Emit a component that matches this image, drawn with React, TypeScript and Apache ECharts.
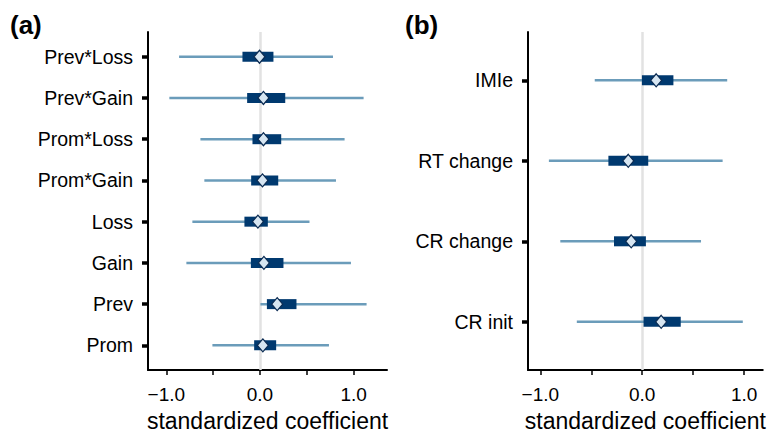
import React, { useEffect, useRef } from "react";
import * as echarts from "echarts";

// Panel (a): rows listed bottom -> top
const labelsA = ["Prom", "Prev", "Gain", "Loss", "Prom*Gain", "Prom*Loss", "Prev*Gain", "Prev*Loss"];
const lowA = [-0.508, 0.005, -0.786, -0.722, -0.594, -0.636, -0.968, -0.864];
const highA = [0.737, 1.139, 0.972, 0.529, 0.812, 0.904, 1.107, 0.78];
const boxLowA = [-0.062, 0.074, -0.097, -0.166, -0.094, -0.08, -0.137, -0.187];
const boxHighA = [0.173, 0.39, 0.251, 0.084, 0.195, 0.227, 0.27, 0.144];
const estA = [0.031, 0.184, 0.042, -0.022, 0.027, 0.037, 0.037, -0.005];

// Panel (b): rows listed bottom -> top
const labelsB = ["CR init", "CR change", "RT change", "IMIe"];
const lowB = [-0.642, -0.804, -0.916, -0.466];
const highB = [0.987, 0.577, 0.789, 0.834];
const boxLowB = [0.013, -0.277, -0.332, -0.003];
const boxHighB = [0.378, 0.036, 0.059, 0.306];
const estB = [0.186, -0.108, -0.137, 0.137];

const xTicks = [-1, -0.5, 0, 0.5, 1];
const xLabels = [-1, 0, 1];

const FONT = "Liberation Sans, Arial, Helvetica, sans-serif";
const LINE_COLOR = "#6b9cba";
const BOX_COLOR = "#00396f";
const PT_FILL = "#d6e5f1";
const PT_STROKE = "#0b2b52";

function buildData(low: number[], high: number[], bl: number[], bh: number[], est: number[]) {
  return low.map((_, i) => [i + 1, low[i], high[i], bl[i], bh[i], est[i]]);
}

function renderItem(params: any, api: any) {
  const y = api.value(0);
  const pLo = api.coord([api.value(1), y]);
  const pHi = api.coord([api.value(2), y]);
  const bLo = api.coord([api.value(3), y]);
  const bHi = api.coord([api.value(4), y]);
  const pE = api.coord([api.value(5), y]);
  const py = pLo[1];
  return {
    type: "group",
    children: [
      {
        type: "line",
        shape: { x1: pLo[0], y1: py, x2: pHi[0], y2: py },
        style: { stroke: LINE_COLOR, lineWidth: 2.5 },
      },
      {
        type: "rect",
        shape: { x: bLo[0], y: py - 5, width: bHi[0] - bLo[0], height: 10 },
        style: { fill: BOX_COLOR },
      },
      {
        type: "polygon",
        shape: {
          points: [
            [pE[0], py - 6.5],
            [pE[0] + 5.5, py],
            [pE[0], py + 6.5],
            [pE[0] - 5.5, py],
          ],
        },
        style: { fill: PT_FILL, stroke: PT_STROKE, lineWidth: 1.2 },
      },
    ],
  };
}

const fmtX = (v: number) => {
  if (Math.abs(v) < 1e-9) return "0.0";
  return (v < 0 ? "\u2212" : "") + Math.abs(v).toFixed(1);
};

function xAxisCfg(gridIndex: number, min: number, max: number) {
  return {
    type: "value",
    gridIndex,
    min,
    max,
    name: "standardized coefficient",
    nameLocation: "middle",
    nameGap: 38,
    nameTextStyle: { fontFamily: FONT, fontSize: 23, color: "#000" },
    axisLine: { show: true, onZero: false, lineStyle: { color: "#000", width: 2 } },
    axisTick: { show: true, length: 5, lineStyle: { color: "#000", width: 1.5 }, customValues: xTicks },
    axisLabel: {
      customValues: xLabels,
      margin: 15,
      fontFamily: FONT,
      fontSize: 19,
      color: "#000",
      formatter: fmtX,
    },
    splitLine: { show: false },
  };
}

function yAxisCfg(gridIndex: number, labels: string[]) {
  const vals = labels.map((_, i) => i + 1);
  return {
    type: "value",
    gridIndex,
    min: 0.4,
    max: labels.length + 0.6,
    axisLine: { show: true, onZero: false, lineStyle: { color: "#000", width: 2 } },
    axisTick: { show: true, length: 6, lineStyle: { color: "#000", width: 3.5 }, customValues: vals },
    axisLabel: {
      customValues: vals,
      margin: 15,
      fontFamily: FONT,
      fontSize: 19.5,
      color: "#000",
      formatter: (v: number) => labels[Math.round(v) - 1] ?? "",
    },
    splitLine: { show: false },
  };
}

function zeroLineSeries(idx: number) {
  return {
    type: "line",
    xAxisIndex: idx,
    yAxisIndex: idx,
    data: [],
    z: 1,
    silent: true,
    markLine: {
      z: 1,
      silent: true,
      symbol: "none",
      label: { show: false },
      lineStyle: { color: "#e2e2e2", width: 2.5, type: "solid" },
      data: [{ xAxis: 0 }],
    },
  };
}

export default function App() {
  const ref = useRef<HTMLDivElement>(null);
  useEffect(() => {
    if (!ref.current) return;
    const chart = echarts.init(ref.current, null, { renderer: "svg" });
    chart.setOption({
      animation: false,
      backgroundColor: "#fff",
      title: [
        { text: "(a)", left: 5, top: 7, textStyle: { fontFamily: FONT, fontSize: 26, fontWeight: "bold", color: "#000" } },
        { text: "(b)", left: 400, top: 7, textStyle: { fontFamily: FONT, fontSize: 26, fontWeight: "bold", color: "#000" } },
      ],
      grid: [
        { left: 148, right: 382, top: 32, bottom: 65 },
        { left: 528, right: 5, top: 32, bottom: 65 },
      ],
      xAxis: [xAxisCfg(0, -1.196, 1.357), xAxisCfg(1, -1.121, 1.183)],
      yAxis: [yAxisCfg(0, labelsA), yAxisCfg(1, labelsB)],
      series: [
        zeroLineSeries(0),
        zeroLineSeries(1),
        {
          type: "custom",
          xAxisIndex: 0,
          yAxisIndex: 0,
          z: 10,
          renderItem,
          encode: { x: [1, 2, 3, 4, 5], y: 0 },
          data: buildData(lowA, highA, boxLowA, boxHighA, estA),
        },
        {
          type: "custom",
          xAxisIndex: 1,
          yAxisIndex: 1,
          z: 10,
          renderItem,
          encode: { x: [1, 2, 3, 4, 5], y: 0 },
          data: buildData(lowB, highB, boxLowB, boxHighB, estB),
        },
      ],
    });
    return () => chart.dispose();
  }, []);
  return (
    <div
      ref={ref}
      style={{ position: "fixed", left: 0, top: 0, width: 769, height: 437, background: "#fff" }}
    />
  );
}
